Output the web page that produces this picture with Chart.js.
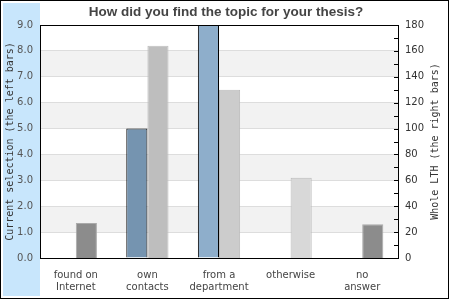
<!DOCTYPE html>
<html>
<head>
<meta charset="utf-8">
<script src="https://cdn.jsdelivr.net/npm/chart.js@4.4.0/dist/chart.umd.min.js"></script>
<style>
  html, body { margin: 0; padding: 0; background: #fff; }
</style>
</head>
<body>
<canvas id="chart" width="450" height="300"></canvas>
<script>
// Data.
const categories = [['found on', 'Internet'], ['own', 'contacts'], ['from a', 'department'], 'otherwise', ['no', 'answer']];
const currentSelection = [0, 5, 9, 0, 0];      // left axis
const wholeLTH = [27, 164, 130, 62, 26];       // right axis
const leftTicks = [0, 1, 2, 3, 4, 5, 6, 7, 8, 9];
const rightTicks = [0, 20, 40, 60, 80, 100, 120, 140, 160, 180];

const chartTitle = 'How did you find the topic for your thesis?';
const leftTitle = 'Current selection (the left bars)';
const rightTitle = 'Whole LTH (the right bars)';

// Bar colours, one per category.
const leftFill = ['#7594b0', '#7594b0', '#8eaecb', '#8eaecb', '#8eaecb'];
const rightFill = ['#8c8c8c', '#bebebe', '#cccccc', '#d8d8d8', '#8c8c8c'];
const rightBorder = ['#aaaaaa', '#bebebe', '#bbbbbb', '#bbbbbb', '#aaaaaa'];

const tickFont = { family: 'DejaVu Sans', size: 10 };
const monoFont = { family: 'DejaVu Sans Mono', size: 10 };

// Background, side strip, banded rows, box, inward ticks and titles.
const decorations = {
  id: 'decorations',
  beforeDraw(chart) {
    const { ctx, chartArea: a, scales } = chart;
    ctx.save();
    ctx.fillStyle = '#ffffff';
    ctx.fillRect(0, 0, chart.width, chart.height);
    ctx.fillStyle = '#c8e6fc';
    ctx.fillRect(3, 3, a.left - 3, chart.height - 7);
    // alternate grey bands
    ctx.fillStyle = '#f2f2f2';
    const y = scales.y;
    for (let i = 1; i < leftTicks.length - 1; i += 2) {
      const top = y.getPixelForValue(leftTicks[i + 1]);
      const bot = y.getPixelForValue(leftTicks[i]);
      ctx.fillRect(a.left, top, a.right - a.left, bot - top);
    }
    ctx.restore();
  },
  afterDatasetsDraw(chart) {
    const { ctx, chartArea: a, scales } = chart;
    ctx.save();
    ctx.strokeStyle = '#000';
    ctx.lineWidth = 1;
    ctx.strokeRect(Math.round(a.left) + 0.5, Math.round(a.top) + 0.5,
      Math.round(a.right - a.left), Math.round(a.bottom - a.top));
    // right axis ticks pointing inward, major and minor
    const y1 = scales.y1;
    ctx.beginPath();
    for (let i = 0; i < rightTicks.length; i++) {
      const vals = [rightTicks[i]];
      if (i < rightTicks.length - 1) vals.push((rightTicks[i] + rightTicks[i + 1]) / 2);
      vals.forEach(v => {
        const py = Math.round(y1.getPixelForValue(v)) + 0.5;
        ctx.moveTo(a.right - 4, py);
        ctx.lineTo(a.right, py);
      });
    }
    ctx.stroke();
    ctx.restore();
  },
  afterDraw(chart) {
    const { ctx, chartArea: a } = chart;
    ctx.save();
    ctx.fillStyle = '#444';
    ctx.font = 'bold 13.5px "Liberation Sans"';
    ctx.textAlign = 'center';
    ctx.textBaseline = 'middle';
    ctx.fillText(chartTitle, 226, 12);
    ctx.fillStyle = '#333';
    ctx.font = '10px "DejaVu Sans Mono"';
    ctx.translate(435, (a.top + a.bottom) / 2);
    ctx.rotate(-Math.PI / 2);
    ctx.fillText(rightTitle, 0, 0);
    ctx.restore();
    ctx.save();
    ctx.strokeStyle = '#000';
    ctx.lineWidth = 1;
    ctx.strokeRect(0.5, 0.5, chart.width - 2, chart.height - 2);
    ctx.restore();
  }
};

new Chart(document.getElementById('chart'), {
  type: 'bar',
  data: {
    labels: categories,
    datasets: [
      {
        label: 'Current selection',
        data: currentSelection,
        yAxisID: 'y',
        backgroundColor: leftFill,
        borderColor: '#000',
        borderWidth: 1,
        categoryPercentage: 0.59,
        barPercentage: 1.0
      },
      {
        label: 'Whole LTH',
        data: wholeLTH,
        yAxisID: 'y1',
        backgroundColor: rightFill,
        borderColor: rightBorder,
        borderWidth: 1,
        categoryPercentage: 0.59,
        barPercentage: 1.0
      }
    ]
  },
  options: {
    responsive: false,
    animation: false,
    layout: { padding: { left: 3, right: 3, top: 25, bottom: 3 } },
    plugins: {
      legend: { display: false },
      title: { display: false },
      tooltip: { enabled: false }
    },
    scales: {
      x: {
        grid: { display: false },
        border: { display: false },
        ticks: { color: '#444', font: tickFont, padding: 3, maxRotation: 0, autoSkip: false },
        afterFit: (scale) => { scale.height = 39; }
      },
      y: {
        position: 'left',
        min: leftTicks[0],
        max: leftTicks[leftTicks.length - 1],
        afterBuildTicks: (scale) => { scale.ticks = leftTicks.map(v => ({ value: v })); },
        grid: { color: '#dddddd', drawTicks: false },
        border: { display: false },
        ticks: {
          color: '#555',
          font: tickFont,
          padding: 7,
          callback: (v) => Number(v).toFixed(1)
        },
        title: {
          display: true,
          text: leftTitle,
          color: '#333',
          font: monoFont,
          padding: { top: 1, bottom: 0 }
        },
        afterFit: (scale) => { scale.width = 37; }
      },
      y1: {
        position: 'right',
        min: rightTicks[0],
        max: rightTicks[rightTicks.length - 1],
        afterBuildTicks: (scale) => { scale.ticks = rightTicks.map(v => ({ value: v })); },
        grid: { display: false, drawOnChartArea: false, drawTicks: false },
        border: { display: false },
        ticks: { color: '#333', font: tickFont, padding: 7 },
        afterFit: (scale) => { scale.width = 49; }
      }
    }
  },
  plugins: [decorations]
});
</script>
</body>
</html>
